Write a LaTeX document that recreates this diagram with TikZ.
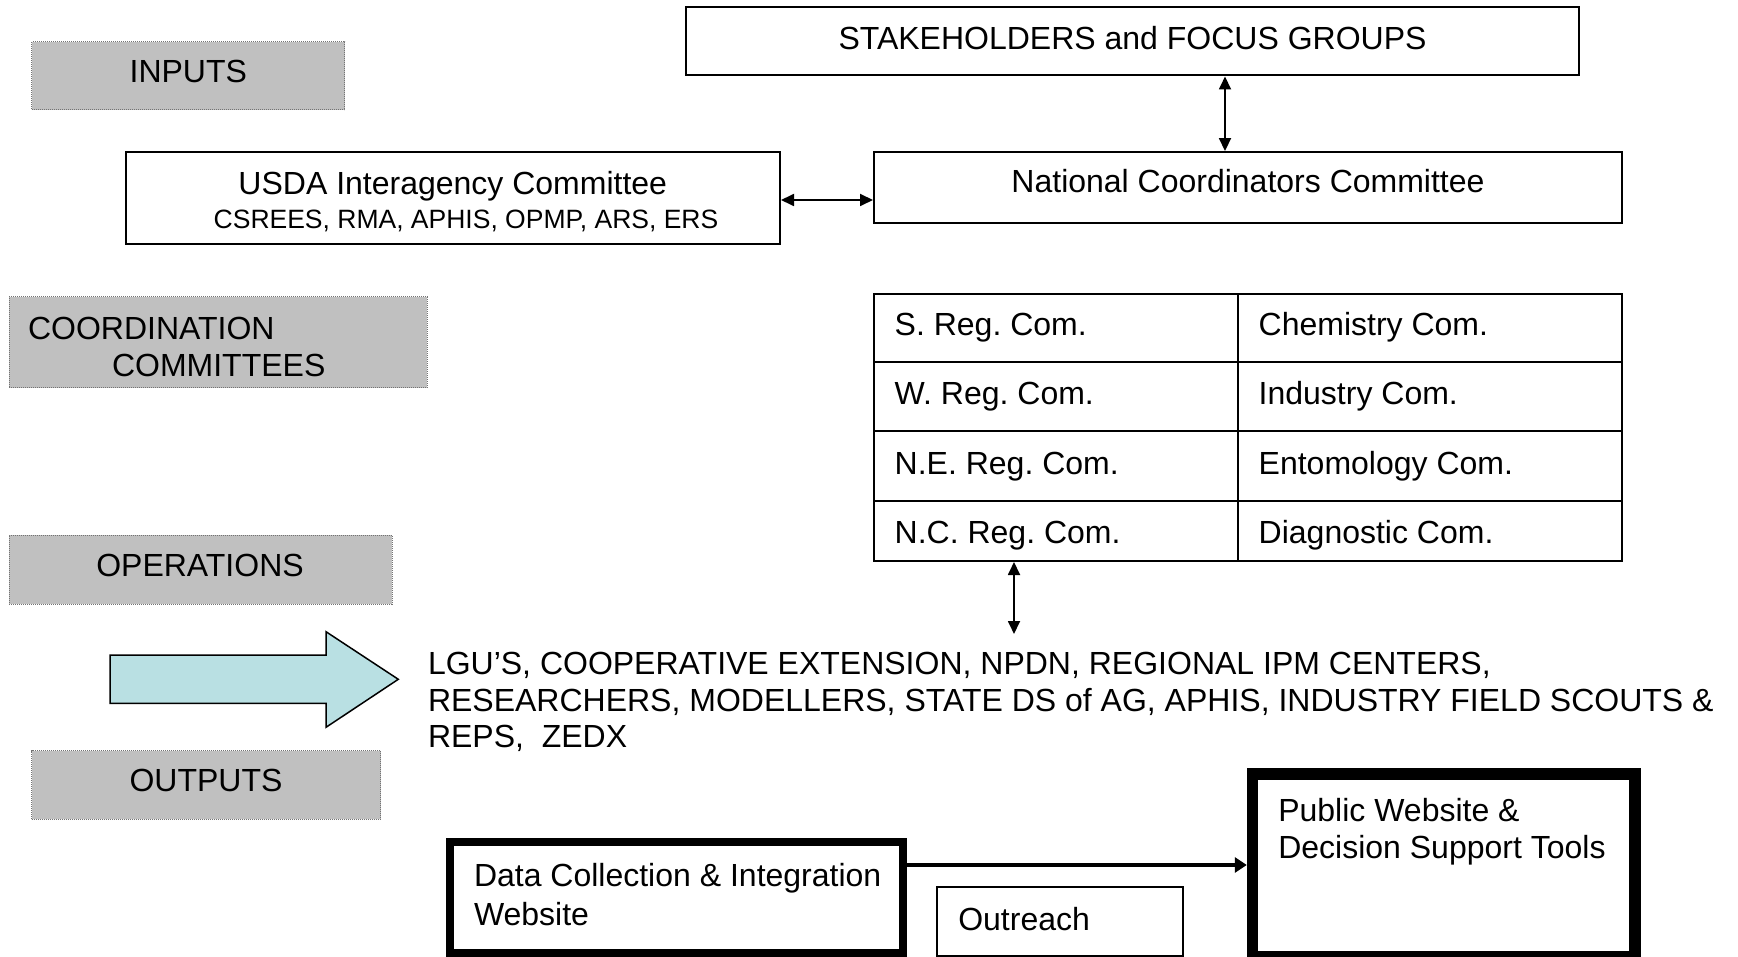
\documentclass[tikz,border=0pt]{standalone}
\usepackage{fontspec}
\setmainfont{Liberation Sans}
\usetikzlibrary{arrows.meta}
\definecolor{boxgray}{RGB}{192,192,192}
\definecolor{arrowcyan}{RGB}{185,224,227}
\definecolor{dotgray}{RGB}{115,115,115}
\frenchspacing
\begin{document}
\begin{tikzpicture}[x=1pt,y=-1pt,
  txt/.style={inner sep=0pt, outer sep=0pt, font=\fontsize{32}{37}\selectfont},
  smalltxt/.style={inner sep=0pt, outer sep=0pt, font=\fontsize{26.5}{30}\selectfont},
  grayb/.style={draw=dotgray, densely dotted, line width=1pt, fill=boxgray, inner sep=0pt, outer sep=0pt},
  thinb/.style={draw=black, line width=2pt, fill=white, inner sep=0pt},
  cell/.style={draw=black, line width=2pt, inner sep=0pt},
  heavyb/.style={draw=black, fill=white, inner sep=0pt},
  dbl/.style={line width=1.8pt, {Triangle[length=13pt,width=12pt]}-{Triangle[length=13pt,width=12pt]}},
  flow/.style={line width=4pt, -{Triangle[length=12pt,width=15pt]}},
]
\useasboundingbox (0,0) rectangle (1738,957);
\fill[white] (0,0) rectangle (1738,957);

% side labels
\node[grayb, minimum width=313pt, minimum height=68pt] (inputs) at (188.3,76) {};
\node[txt, anchor=base] (inputsT) at (188.3,83) {INPUTS};

\node[grayb, minimum width=418pt, minimum height=91pt] (coord) at (218,342.5) {};
\node[txt, anchor=base west] (coordT1) at (28,340) {COORDINATION};
\node[txt, anchor=base west] (coordT2) at (112,377) {COMMITTEES};

\node[grayb, minimum width=383pt, minimum height=69pt] (ops) at (200.5,569.5) {};
\node[txt, anchor=base] (opsT) at (200,576) {OPERATIONS};

\node[grayb, minimum width=349pt, minimum height=68.6pt] (outputs) at (206,785) {};
\node[txt, anchor=base] (outputsT) at (206,791.7) {OUTPUTS};

% top boxes
\node[thinb, minimum width=893pt, minimum height=68pt] (stake) at (1132.5,41.5) {};
\node[txt, anchor=base] (stakeT) at (1132.5,49.5) {STAKEHOLDERS and FOCUS GROUPS};

\node[thinb, minimum width=748pt, minimum height=70.5pt] (nat) at (1248,187.3) {};
\node[txt, anchor=base] (natT) at (1248,192.7) {National Coordinators Committee};

\node[thinb, minimum width=654.5pt, minimum height=92pt] (usda) at (452.75,198.5) {};
\node[txt, anchor=base] (usdaT1) at (452.8,195) {USDA Interagency Committee};
\node[smalltxt, anchor=base] (usdaT2) at (466,228.5) {CSREES, RMA, APHIS, OPMP, ARS, ERS};

\coordinate (vx) at (1225,0);
\coordinate (hy) at (0,200);
\draw[dbl] (stake.south -| vx) -- (nat.north -| vx);
\draw[dbl] (usda.east |- hy) -- (nat.west |- hy);

% committee table
\node[cell, minimum width=364pt, minimum height=68.5pt] (s1) at (1056,328.25) {};
\node[cell, minimum width=364pt, minimum height=69pt] (s2) at (1056,397) {};
\node[cell, minimum width=364pt, minimum height=69pt] (s3) at (1056,466) {};
\node[cell, minimum width=364pt, minimum height=60.5pt] (s4) at (1056,530.75) {};
\node[cell, minimum width=384pt, minimum height=68.5pt] (c1) at (1430,328.25) {};
\node[cell, minimum width=384pt, minimum height=69pt] (c2) at (1430,397) {};
\node[cell, minimum width=384pt, minimum height=69pt] (c3) at (1430,466) {};
\node[cell, minimum width=384pt, minimum height=60.5pt] (c4) at (1430,530.75) {};
\node[txt, anchor=base west] (s1T) at (894.7,335.5) {S. Reg. Com.};
\node[txt, anchor=base west] (s2T) at (894.7,404.5) {W. Reg. Com.};
\node[txt, anchor=base west] (s3T) at (894.7,474) {N.E. Reg. Com.};
\node[txt, anchor=base west] (s4T) at (894.7,543) {N.C. Reg. Com.};
\node[txt, anchor=base west] (c1T) at (1258.7,335.5) {Chemistry Com.};
\node[txt, anchor=base west] (c2T) at (1258.7,404.5) {Industry Com.};
\node[txt, anchor=base west] (c3T) at (1258.7,474) {Entomology Com.};
\node[txt, anchor=base west] (c4T) at (1258.7,543) {Diagnostic Com.};

\coordinate (tx) at (1014,0);
\coordinate (opsEnd) at (1014,634);
\draw[dbl] (s4.south -| tx) -- (opsEnd);

% block arrow
\draw[fill=arrowcyan, line width=1.5pt, line join=miter]
  (110,655) -- (326,655) -- (326,631.7) -- (398.3,679.3) -- (326,727.3) -- (326,703.3) -- (110,703.3) -- cycle;

\node[inner sep=0pt, outer sep=0pt, font=\fontsize{32}{36.5}\selectfont, align=left, anchor=north west] (partners) at (428,652.2)
  {LGU’S, COOPERATIVE EXTENSION, NPDN, REGIONAL IPM CENTERS,\\
   RESEARCHERS, MODELLERS, STATE DS of AG, APHIS, INDUSTRY FIELD SCOUTS \&\\
   REPS,\ \ ZEDX};

% outputs
\node[heavyb, line width=8pt, minimum width=452.5pt, minimum height=111pt] (data) at (676.25,897.5) {};
\node[inner sep=0pt, outer sep=0pt, font=\fontsize{32}{37}\selectfont, align=left, anchor=north west] (dataT) at (474,863.4)
  {Data Collection \& Integration\\[2pt] Website};

\node[thinb, minimum width=245.4pt, minimum height=68.2pt] (outreach) at (1060,921.4) {};
\node[txt, anchor=base west] (outreachT) at (958.3,930) {Outreach};

\node[heavyb, line width=11.5pt, minimum width=382.5pt, minimum height=182.5pt] (pub) at (1443.75,865.25) {};
\node[inner sep=0pt, outer sep=0pt, font=\fontsize{32}{37.3}\selectfont, align=left, anchor=north west] (pubT) at (1278.3,798.4)
  {Public Website \&\\ Decision Support Tools};

\coordinate (ay) at (0,865);
\draw[flow] (data.east |- ay) -- (pub.west |- ay);
\end{tikzpicture}
\end{document}
